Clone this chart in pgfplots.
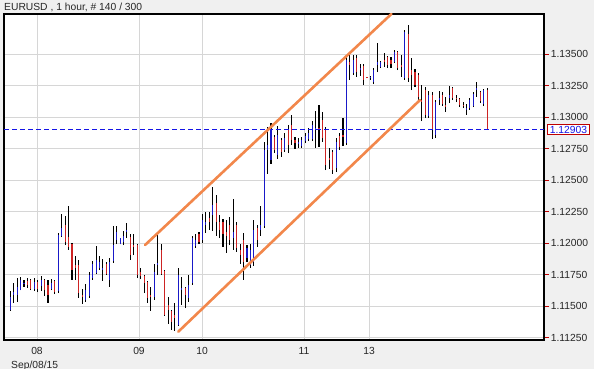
\documentclass[border=0pt]{standalone}
\usepackage{pgfplots}
\usepackage{pgfplotstable}
\pgfplotsset{compat=1.18}
\usepackage{fontspec}
\setmainfont{Liberation Sans}
\definecolor{barblue}{RGB}{25,25,200}
\definecolor{barred}{RGB}{205,35,35}
\definecolor{chan}{RGB}{242,135,75}
\definecolor{bgc}{RGB}{240,240,240}
\definecolor{dashblue}{RGB}{20,20,230}
\pgfplotstableread{
i o h l c
0 1.11470 1.11620 1.11462 1.11573
1 1.11588 1.11684 1.11525 1.11612
2 1.11588 1.11723 1.11533 1.11652
3 1.11628 1.11731 1.11628 1.11708
4 1.11676 1.11708 1.11652 1.11684
5 1.11700 1.11723 1.11644 1.11668
6 1.11708 1.11715 1.11628 1.11636
7 1.11636 1.11723 1.11620 1.11692
8 1.11692 1.11708 1.11612 1.11636
9 1.11660 1.11739 1.11620 1.11708
10 1.11708 1.11715 1.11581 1.11628
11 1.11668 1.11708 1.11525 1.11588
12 1.11636 1.11715 1.11628 1.11684
13 1.11700 1.11708 1.11596 1.11612
14 1.11620 1.12081 1.11604 1.12065
15 1.12057 1.12232 1.12049 1.12121
16 1.12144 1.12216 1.11985 1.12009
17 1.12049 1.12296 1.11946 1.11970
18 1.11993 1.12001 1.11708 1.11787
19 1.11827 1.11898 1.11708 1.11803
20 1.11827 1.11867 1.11565 1.11604
21 1.11588 1.11636 1.11517 1.11573
22 1.11549 1.11676 1.11533 1.11628
23 1.11581 1.11771 1.11565 1.11747
24 1.11723 1.11859 1.11708 1.11835
25 1.11763 1.11978 1.11755 1.11867
26 1.11803 1.11898 1.11787 1.11851
27 1.11787 1.11875 1.11700 1.11803
28 1.11835 1.11851 1.11747 1.11755
29 1.11708 1.11883 1.11652 1.11851
30 1.11859 1.12137 1.11843 1.11985
31 1.12025 1.12137 1.11993 1.12089
32 1.11993 1.12041 1.11993 1.12041
33 1.12009 1.12097 1.11985 1.12057
34 1.12089 1.12160 1.12041 1.12105
35 1.12049 1.12073 1.11867 1.11906
36 1.11985 1.12073 1.11906 1.11970
37 1.11985 1.11993 1.11723 1.11747
38 1.11771 1.11803 1.11715 1.11739
39 1.11739 1.11747 1.11604 1.11684
40 1.11692 1.11700 1.11525 1.11565
41 1.11588 1.11652 1.11462 1.11573
42 1.11573 1.11835 1.11549 1.11771
43 1.11827 1.12081 1.11747 1.11843
44 1.11946 1.11993 1.11747 1.11755
45 1.11779 1.11787 1.11422 1.11430
46 1.11509 1.11573 1.11359 1.11470
47 1.11462 1.11470 1.11311 1.11375
48 1.11430 1.11525 1.11303 1.11406
49 1.11351 1.11803 1.11343 1.11747
50 1.11628 1.11731 1.11509 1.11644
51 1.11644 1.11652 1.11485 1.11588
52 1.11565 1.11747 1.11533 1.11668
53 1.11684 1.12057 1.11668 1.12041
54 1.11978 1.12073 1.11962 1.12025
55 1.12073 1.12089 1.11993 1.12009
56 1.12025 1.12232 1.12001 1.12184
57 1.12144 1.12248 1.12081 1.12168
58 1.12200 1.12248 1.12105 1.12168
59 1.12224 1.12446 1.12097 1.12303
60 1.12319 1.12383 1.12057 1.12168
61 1.12168 1.12224 1.12041 1.12105
62 1.12168 1.12192 1.11970 1.12073
63 1.12089 1.12184 1.11922 1.12057
64 1.12144 1.12208 1.11985 1.12025
65 1.12041 1.12351 1.11946 1.12089
66 1.12144 1.12168 1.11930 1.11962
67 1.11946 1.11993 1.11835 1.11906
68 1.12025 1.12081 1.11708 1.11851
69 1.11883 1.11985 1.11851 1.11962
70 1.11827 1.11993 1.11803 1.11946
71 1.11851 1.12184 1.11819 1.12105
72 1.12121 1.12144 1.11970 1.12025
73 1.12105 1.12296 1.12057 1.12144
74 1.12137 1.12804 1.12121 1.12740
75 1.12740 1.12923 1.12550 1.12780
76 1.12661 1.12954 1.12629 1.12899
77 1.12843 1.12859 1.12716 1.12740
78 1.12700 1.12930 1.12669 1.12859
79 1.12819 1.12835 1.12685 1.12724
80 1.12740 1.12875 1.12724 1.12835
81 1.12899 1.12938 1.12716 1.12780
82 1.12938 1.13018 1.12780 1.12819
83 1.12819 1.12843 1.12748 1.12795
84 1.12788 1.12835 1.12756 1.12804
85 1.12772 1.12843 1.12756 1.12819
86 1.12811 1.12875 1.12795 1.12851
87 1.12827 1.12915 1.12811 1.12875
88 1.12827 1.12970 1.12811 1.12938
89 1.12899 1.13050 1.12756 1.12915
90 1.12915 1.13097 1.12764 1.12899
91 1.12978 1.13042 1.12804 1.12835
92 1.12899 1.12923 1.12581 1.12621
93 1.12677 1.12756 1.12589 1.12661
94 1.12724 1.12740 1.12550 1.12581
95 1.12597 1.12835 1.12565 1.12804
96 1.12851 1.12875 1.12740 1.12764
97 1.12859 1.12994 1.12772 1.12843
98 1.12796 1.13494 1.12780 1.13455
99 1.13439 1.13494 1.13296 1.13415
100 1.13351 1.13494 1.13336 1.13455
101 1.13471 1.13494 1.13320 1.13359
102 1.13375 1.13423 1.13328 1.13391
103 1.13407 1.13423 1.13256 1.13296
104 1.13320 1.13322 1.13310 1.13312
105 1.13312 1.13328 1.13296 1.13320
106 1.13280 1.13391 1.13264 1.13375
107 1.13415 1.13590 1.13359 1.13439
108 1.13399 1.13447 1.13391 1.13439
109 1.13455 1.13510 1.13399 1.13439
110 1.13478 1.13486 1.13391 1.13415
111 1.13455 1.13478 1.13391 1.13423
112 1.13439 1.13534 1.13431 1.13518
113 1.13518 1.13526 1.13375 1.13391
114 1.13415 1.13494 1.13320 1.13399
115 1.13312 1.13693 1.13296 1.13677
116 1.13661 1.13733 1.13280 1.13312
117 1.13375 1.13471 1.13216 1.13336
118 1.13359 1.13383 1.13240 1.13256
119 1.13336 1.13351 1.13137 1.13161
120 1.13137 1.13256 1.12970 1.13121
121 1.13216 1.13240 1.12994 1.13018
122 1.13010 1.13208 1.12994 1.13177
123 1.13177 1.13200 1.12827 1.12899
124 1.12859 1.13137 1.12835 1.13121
125 1.13137 1.13208 1.13097 1.13153
126 1.13177 1.13200 1.13089 1.13105
127 1.13097 1.13161 1.13042 1.13081
128 1.13153 1.13248 1.13113 1.13177
129 1.13232 1.13240 1.13137 1.13153
130 1.13153 1.13177 1.13121 1.13145
131 1.13145 1.13153 1.13081 1.13097
132 1.13097 1.13121 1.13073 1.13089
133 1.13058 1.13105 1.13018 1.13073
134 1.13073 1.13153 1.13058 1.13137
135 1.13089 1.13200 1.13081 1.13184
136 1.13216 1.13280 1.13161 1.13232
137 1.13200 1.13208 1.13113 1.13129
138 1.13105 1.13224 1.13089 1.13216
139 1.13216 1.13232 1.12903 1.12903
}\bars
\begin{document}
\begin{tikzpicture}
\fill[bgc] (-4bp,-29bp) rectangle (590bp,340bp);
\begin{axis}[
  scale only axis, width=540bp, height=326bp,
  at={(0,0)}, anchor=south west,
  xmin=-1.84, xmax=155.6, ymin=1.11231, ymax=1.13820,
  axis background/.style={fill=white},
  axis line style={black, line width=1.2bp},
  xtick={7.78,37.52,55.89,85.63,104.58},
  xticklabels={08,09,10,11,13},
  xtick style={draw=none},
  ytick={1.1125,1.115,1.1175,1.12,1.1225,1.125,1.1275,1.13,1.1325,1.135},
  ytick pos=right, yticklabel pos=right,
  ytick style={draw=red!75!black, line width=0.8bp},
  tick align=outside, major tick length=5bp,
  scaled y ticks=false,
  /pgf/number format/assume math mode=true,
  yticklabel style={/pgf/number format/fixed, /pgf/number format/fixed zerofill, /pgf/number format/precision=5, xshift=-1.7bp},
  xticklabel style={yshift=1.5bp},
  grid=major, grid style={draw=black!16, line width=0.8bp},
  tick label style={font=\fontsize{10.3bp}{12bp}\selectfont, text=black!85},
  clip mode=individual,
]
% wicks
\addplot[draw=none, forget plot, error bars/.cd, y dir=plus, y explicit, error mark=none,
  error bar style={draw=black, solid, line width=1.1bp}]
  table[x=i, y=l, y error expr=\thisrow{h}-\thisrow{l}] {\bars};
% up bodies
\addplot[draw=none, forget plot, restrict expr to domain={\thisrow{c}-\thisrow{o}}{0:1},
  error bars/.cd, y dir=plus, y explicit, error mark=none,
  error bar style={draw=barblue, solid, line width=1.1bp}]
  table[x=i, y=o, y error expr=\thisrow{c}-\thisrow{o}] {\bars};
% down bodies
\addplot[draw=none, forget plot, restrict expr to domain={\thisrow{o}-\thisrow{c}}{0:1},
  error bars/.cd, y dir=plus, y explicit, error mark=none,
  error bar style={draw=barred, solid, line width=1.1bp}]
  table[x=i, y=c, y error expr=\thisrow{o}-\thisrow{c}] {\bars};
% current price line
\addplot[color=dashblue, draw=dashblue, dash pattern=on 5bp off 3bp, line width=1bp, forget plot]
  coordinates {(-1.84,1.12903) (155.6,1.12903)};
% channel
\addplot[chan, line width=2.6bp, line cap=round, forget plot]
  coordinates {(39.27,1.11985) (111.1,1.13820)};
\addplot[chan, line width=2.6bp, line cap=round, forget plot]
  coordinates {(48.98,1.11297) (119.45,1.13137)};
\node[draw=red!75!black, fill=white, text=dashblue, line width=0.8bp, inner xsep=2.5bp, inner ysep=1.5bp,
  anchor=west, xshift=3bp, font=\fontsize{10.3bp}{12bp}\selectfont] at (axis cs:155.6,1.12903) {1.12903};
\node[anchor=base west, inner sep=0pt, yshift=3.3bp, font=\fontsize{10.3bp}{12bp}\selectfont, text=black!85]
  at (rel axis cs:0,1) {EURUSD , 1 hour, \# 140 / 300};
\node[anchor=base west, inner sep=0pt, xshift=7bp, yshift=-28bp, font=\fontsize{10.3bp}{12bp}\selectfont, text=black!85]
  at (rel axis cs:0,0) {Sep/08/15};
\end{axis}
\pgfresetboundingbox
\path[use as bounding box] (-4bp,-29bp) rectangle (590bp,340bp);
\end{tikzpicture}
\end{document}
